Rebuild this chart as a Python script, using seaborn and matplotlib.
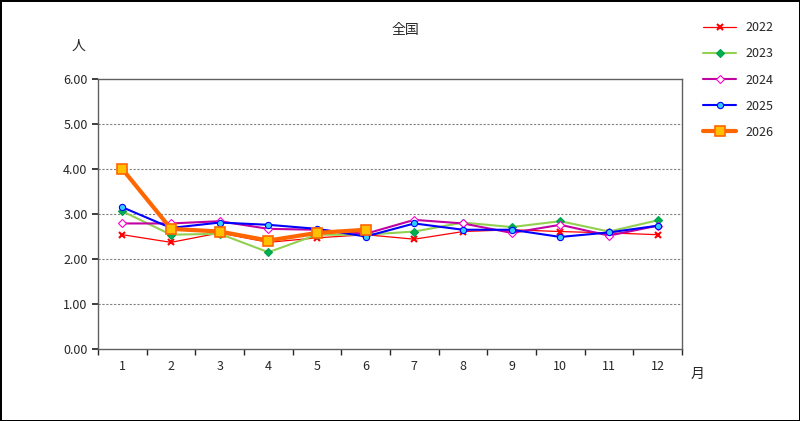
import matplotlib
matplotlib.use("Agg")
import matplotlib.pyplot as plt
import seaborn as sns
import pandas as pd

months = list(range(1, 13))
y2022 = [2.54, 2.37, 2.58, 2.37, 2.47, 2.54, 2.44, 2.61, 2.65, 2.61, 2.58, 2.54]
y2023 = [3.06, 2.54, 2.56, 2.15, 2.54, 2.54, 2.61, 2.81, 2.71, 2.84, 2.61, 2.86]
y2024 = [2.79, 2.79, 2.84, 2.67, 2.65, 2.56, 2.87, 2.79, 2.58, 2.76, 2.52, 2.74]
y2025 = [3.15, 2.69, 2.81, 2.76, 2.67, 2.50, 2.79, 2.65, 2.65, 2.49, 2.59, 2.74]
y2026 = [4.00, 2.67, 2.61, 2.41, 2.58, 2.65]

sns.set_theme(style="white")
plt.rcParams['font.family'] = ['Noto Sans CJK JP', 'DejaVu Sans']

rows = []
for yr, vals in [("2022", y2022), ("2023", y2023), ("2024", y2024), ("2025", y2025), ("2026", y2026)]:
    for m, v in zip(months, vals):
        rows.append({"month": m, "value": v, "year": yr})
df = pd.DataFrame(rows)

styles = {
    "2022": dict(color="#ff0000", lw=0.9, marker="x", ms=5, mec="#ff0000", mfc="#ff0000", mew=1.5),
    "2023": dict(color="#92d050", lw=1.5, marker="D", ms=4, mec="#00a050", mfc="#00b050", mew=0.8),
    "2024": dict(color="#c000a0", lw=1.5, marker="D", ms=4, mec="#ff00cc", mfc="white", mew=0.8),
    "2025": dict(color="#0000ff", lw=1.5, marker="o", ms=4.5, mec="#0000ff", mfc="#33ccff", mew=0.8),
    "2026": dict(color="#ff6600", lw=3.0, marker="s", ms=7, mec="#ff6600", mfc="#ffc000", mew=1.2),
}

fig = plt.figure(figsize=(8, 4.21), dpi=100)
fig.patch.set_edgecolor("black"); fig.patch.set_linewidth(1.0)
ax = fig.add_axes([98/800, 1-349/421, 584/800, 270/421])
for yr, st in styles.items():
    d = df[df.year == yr]
    sns.lineplot(data=d, x="month", y="value", ax=ax, color=st["color"], lw=st["lw"],
                 marker=st["marker"], markersize=st["ms"], markeredgecolor=st["mec"],
                 markerfacecolor=st["mfc"], markeredgewidth=st["mew"], label=yr)
ax.set_xlim(0.5, 12.5)
ax.set_ylim(0, 6)
ax.set_yticks([0, 1, 2, 3, 4, 5, 6])
ax.set_yticklabels([f"{v:.2f}" for v in range(7)])
ax.set_xticks(months)
ax.set_xticks([m + 0.5 for m in range(0, 13)], minor=True)
ax.tick_params(axis="x", which="major", length=0, pad=8, labelsize=9)
ax.tick_params(axis="x", which="minor", length=4, direction="out", bottom=True)
ax.tick_params(axis="y", length=4, direction="out", left=True, labelsize=9)
for y in range(1, 6):
    ax.axhline(y, color="#808080", lw=0.8, ls=(0, (2, 1.5)), zorder=0)
for s in ax.spines.values():
    s.set_color("#606060"); s.set_linewidth(1)
ax.set_xlabel(""); ax.set_ylabel("")
fig.text(405/800, 1-30/421, "全国", ha="center", va="center", fontsize=10)
fig.text(78/800, 1-46/421, "人", ha="center", va="center", fontsize=10)
fig.text(698/800, 1-374/421, "月", ha="center", va="center", fontsize=10)
h, l = ax.get_legend_handles_labels()
ax.legend(h, l, loc="upper left", bbox_to_anchor=(692/800, 1-10/421), bbox_transform=fig.transFigure,
          frameon=False, fontsize=9, labelspacing=1.05, handlelength=2.6)
fig.savefig("out.png", dpi=100, edgecolor=fig.get_edgecolor())
